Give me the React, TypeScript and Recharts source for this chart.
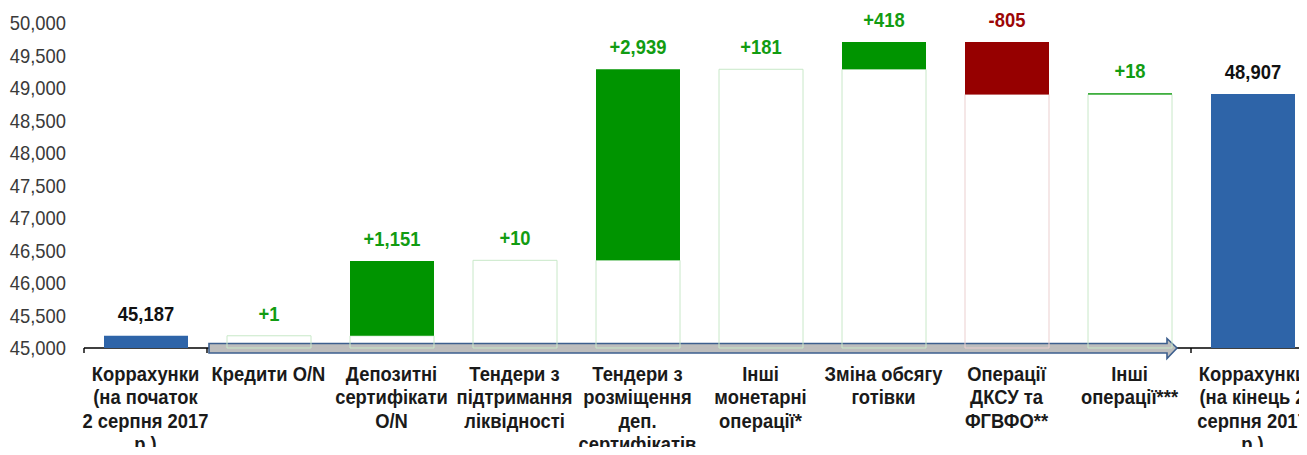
import { BarChart, Bar, XAxis, YAxis, Cell, LabelList, ReferenceArea } from "recharts";

// category captions, line by line as in the source slide
const categoryLines: string[][] = [
  ["Коррахунки", "(на початок", "2 серпня 2017", "р.)"],
  ["Кредити O/N"],
  ["Депозитні", "сертифікати", "O/N"],
  ["Тендери з", "підтримання", "ліквідності"],
  ["Тендери з", "розміщення", "деп.", "сертифікатів"],
  ["Інші", "монетарні", "операції*"],
  ["Зміна обсягу", "готівки"],
  ["Операції", "ДКСУ та", "ФГВФО**"],
  ["Інші", "операції***"],
  ["Коррахунки", "(на кінець  2", "серпня 2017", "р.)"],
];

// top of the hollow "base" box (null = no box)
const outlineTop = [null, 45188, 45187, 46349, 46349, 49288, 49288, 48901, 48901, null];
// filled step, low .. high (null = nothing visible on the slide)
const stepLow = [45000, 45187, 45188, null, 46349, null, 49288, 48901, 48901, 45000];
const stepHigh = [45187, 45188, 46339, null, 49288, null, 49706, 49706, 48919, 48907];
const valueLabels = ["45,187", "+1", "+1,151", "+10", "+2,939", "+181", "+418", "-805", "+18", "48,907"];

const yTicks = [45000, 45500, 46000, 46500, 47000, 47500, 48000, 48500, 49000, 49500, 50000];
const Y_MIN = 45000;
const Y_MAX = 50000;

// the slide uses a narrow grotesque; Liberation Sans squeezed horizontally is close
const FONT = "'Liberation Sans', Arial, sans-serif";
const SQUEEZE = 0.92;
const BLUE = "#2e64a8";
const GREEN = "#009400";
const RED = "#960000";

const kindOf = (label: string) => (label.startsWith("+") ? "up" : label.startsWith("-") ? "down" : "total");

const fillFor = (label: string) => {
  const k = kindOf(label);
  return k === "up" ? GREEN : k === "down" ? RED : BLUE;
};
const textFor = (label: string) => {
  const k = kindOf(label);
  return k === "up" ? "#129c12" : k === "down" ? "#9c0606" : "#111111";
};
const outlineFor = (label: string) => (kindOf(label) === "down" ? "#ebcfcf" : "#c8e8c8");

const data = categoryLines.map((lines, i) => ({
  key: `c${i}`,
  outline: outlineTop[i] == null ? null : [Y_MIN, outlineTop[i]],
  step: stepLow[i] == null ? null : [stepLow[i], stepHigh[i]],
  anchor: [Y_MIN, Math.max(outlineTop[i] ?? Y_MIN, stepHigh[i] ?? Y_MIN)],
  label: valueLabels[i],
}));

function NarrowText({ x, y, anchor = "middle", bold = false, fill, lines, lineHeight = 23.5 }: any) {
  return (
    <g transform={`translate(${x},${y}) scale(${SQUEEZE},1)`}>
      <text x={0} y={0} textAnchor={anchor} fontFamily={FONT} fontWeight={bold ? "bold" : "normal"} fontSize={20} fill={fill}>
        {lines.map((ln: string, k: number) => (
          <tspan key={k} x={0} y={k * lineHeight}>
            {ln}
          </tspan>
        ))}
      </text>
    </g>
  );
}

function CategoryTick(props: any) {
  const { x, y, payload } = props;
  const idx = Number(String(payload.value).slice(1));
  return <NarrowText x={x} y={y + 31} bold fill="#1a1a1a" lines={categoryLines[idx] || []} />;
}

function ValueTick(props: any) {
  const { x, y, payload } = props;
  return (
    <NarrowText x={x} y={y + 7} anchor="end" fill="#3a3a3a" lines={[Number(payload.value).toLocaleString("en-US")]} />
  );
}

// base line with category ticks and the big arrow over the "flow" categories
function AxisArrow(props: any) {
  const { x, y, width, height } = props;
  const n = categoryLines.length;
  const band = width / n;
  const base = y + height;
  const x0 = x + band + 2;
  const tip = x + band * (n - 1) - 14;
  const head = tip - 10;
  const pts = [
    [x0, base - 4.5],
    [head, base - 4.5],
    [head, base - 9.5],
    [tip, base],
    [head, base + 10.5],
    [head, base + 5],
    [x0, base + 5],
  ]
    .map((p) => p.join(","))
    .join(" ");
  return (
    <g>
      <line x1={x} x2={x + width} y1={base} y2={base} stroke="#000" strokeWidth={1.6} />
      {Array.from({ length: n + 1 }, (_, k) => (
        <line key={k} x1={x + k * band} x2={x + k * band} y1={base} y2={base + 5} stroke="#000" strokeWidth={1.4} />
      ))}
      <polygon points={pts} fill="#bdbdbd" stroke="#3d5f8e" strokeWidth={1.6} />
    </g>
  );
}

export default function App() {
  return (
    <div style={{ margin: -8, width: 1307, height: 455, overflow: "hidden", background: "#fff" }}>
      <BarChart width={1330} height={455} data={data} margin={{ top: 23, right: 16, left: 0, bottom: 0 }}>
        <XAxis
          xAxisId="a"
          dataKey="key"
          interval={0}
          height={107}
          axisLine={false}
          tickLine={false}
          tickSize={0}
          tick={<CategoryTick />}
        />
        <XAxis xAxisId="b" dataKey="key" hide />
        <XAxis xAxisId="c" dataKey="key" hide />
        <YAxis
          domain={[Y_MIN, Y_MAX]}
          ticks={yTicks}
          width={84}
          axisLine={false}
          tickLine={false}
          tickSize={0}
          tickMargin={18}
          tick={<ValueTick />}
        />
        <Bar xAxisId="a" dataKey="anchor" barSize={84} fill="none" isAnimationActive={false}>
          <LabelList
            dataKey="label"
            content={(p: any) => (
              <NarrowText
                x={p.x + p.width / 2}
                y={p.y - 15}
                bold
                fill={textFor(String(p.value))}
                lines={[String(p.value)]}
              />
            )}
          />
        </Bar>
        <Bar xAxisId="b" dataKey="outline" barSize={84} fill="none" isAnimationActive={false}>
          {data.map((d) => (
            <Cell key={d.key} fill="none" stroke={outlineFor(d.label)} strokeWidth={1} />
          ))}
        </Bar>
        <Bar xAxisId="c" dataKey="step" barSize={84} isAnimationActive={false}>
          {data.map((d) => (
            <Cell key={d.key} fill={fillFor(d.label)} />
          ))}
        </Bar>
        <ReferenceArea xAxisId="a" y1={Y_MIN} y2={Y_MIN + 500} ifOverflow="visible" shape={<AxisArrow />} />
      </BarChart>
    </div>
  );
}
